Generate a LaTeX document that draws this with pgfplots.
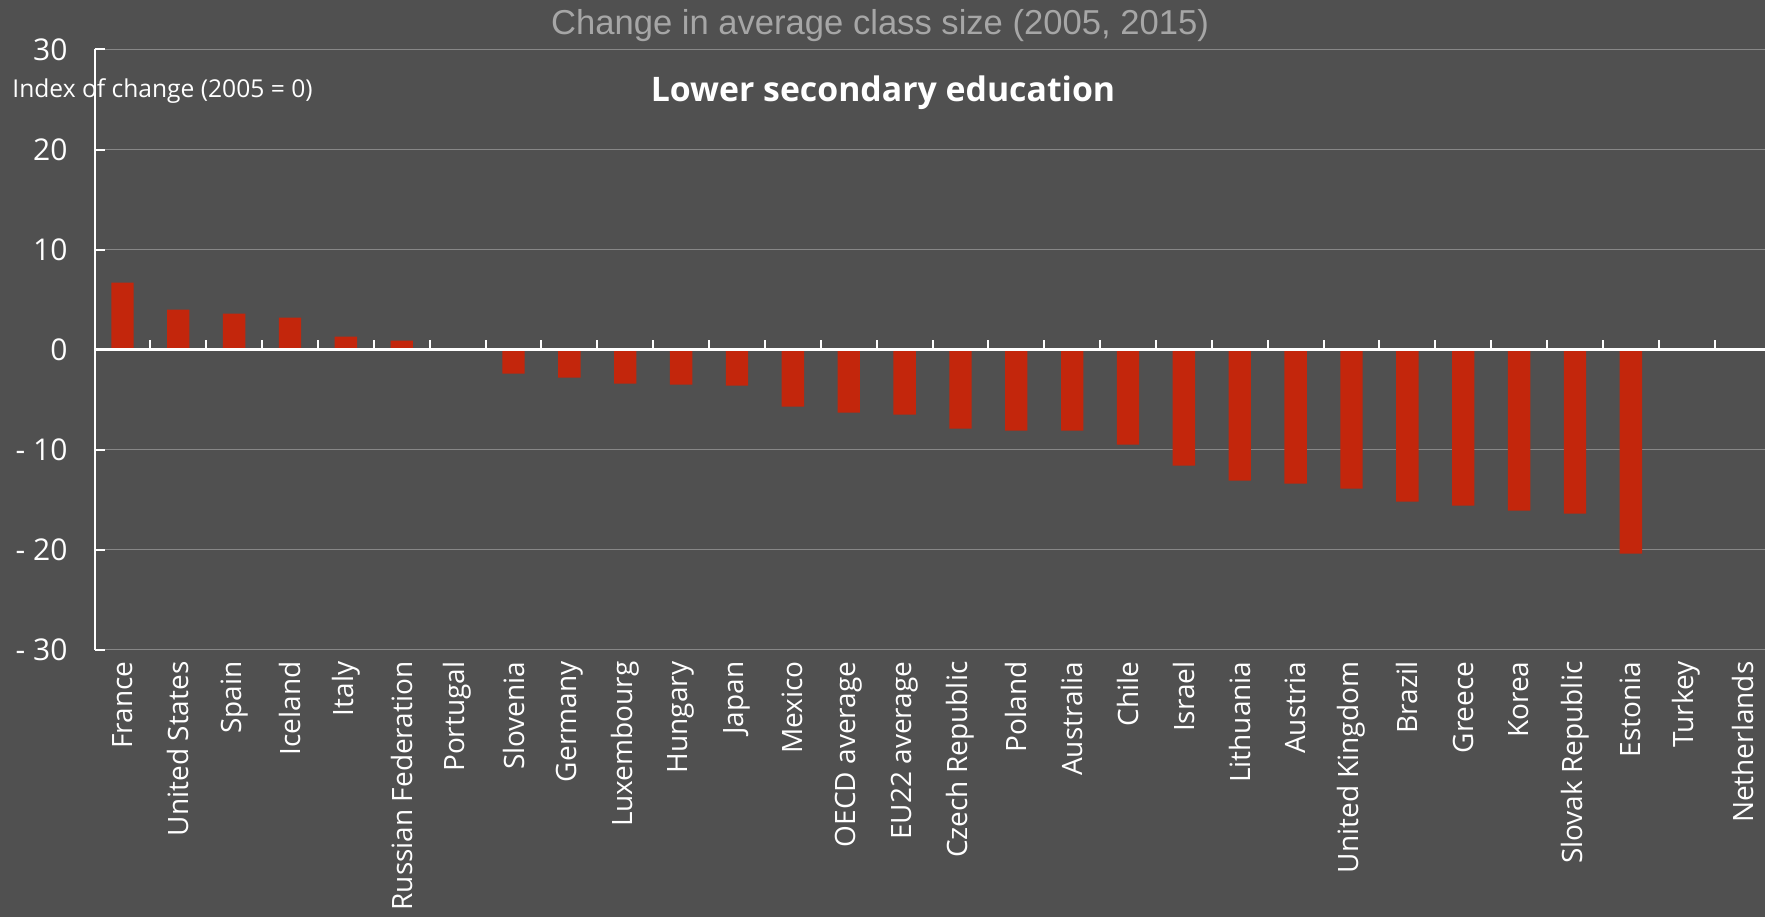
\documentclass[border=0pt]{standalone}
\usepackage{pgfplots}
\pgfplotsset{compat=1.18}
\usepackage{fontspec}
\setmainfont{Open Sans}
\newfontfamily\lib{Liberation Sans}
\definecolor{bg}{RGB}{80,80,80}
\definecolor{barred}{RGB}{195,38,12}
\definecolor{gridc}{RGB}{135,135,135}
\definecolor{titlec}{RGB}{166,166,166}
\begin{document}
\begin{tikzpicture}[x=0.5pt,y=0.5pt]
\path[use as bounding box, fill=bg] (0,0) rectangle (1765,917);
\clip (0,0) rectangle (1765,917);
\begin{axis}[
  at={(47.25pt,133.75pt)}, anchor=south west, scale only axis,
  width=838pt, height=300pt,
  xmin=-0.5, xmax=29.5, ymin=-30, ymax=30,
  axis x line*=bottom, axis y line*=left,
  x axis line style={draw=none},
  y axis line style={white, line width=1pt},
  xtick={0,...,29},
  xticklabels={France,United States,Spain,Iceland,Italy,Russian Federation,Portugal,Slovenia,Germany,Luxembourg,Hungary,Japan,Mexico,OECD average,EU22 average,Czech Republic,Poland,Australia,Chile,Israel,Lithuania,Austria,United Kingdom,Brazil,Greece,Korea,Slovak Republic,Estonia,Turkey,Netherlands},
  x tick label style={rotate=90, anchor=east, font=\fontsize{14}{16}\selectfont, text=white},
  xticklabel shift=2.5pt,
  major x tick style={draw=none},
  ytick={-30,-20,-10,0,10,20,30},
  yticklabels={- 30,- 20,- 10,0,10,20,30},
  y tick label style={font=\fontsize{15}{17}\selectfont, text=white, xshift=-10pt},
  y tick style={white, line width=1pt},
  tick align=inside, major tick length=5pt,
  ymajorgrids, grid style={gridc, line width=0.75pt},
  clip=false,
]
\addplot[ybar, bar width=0.4, fill=barred, draw=none] coordinates {
(0,6.7) (1,4.0) (2,3.6) (3,3.2) (4,1.3) (5,0.9) (6,0) (7,-2.4) (8,-2.8) (9,-3.4)
(10,-3.5) (11,-3.6) (12,-5.7) (13,-6.3) (14,-6.5) (15,-7.9) (16,-8.1) (17,-8.1) (18,-9.5) (19,-11.6)
(20,-13.1) (21,-13.4) (22,-13.9) (23,-15.2) (24,-15.6) (25,-16.1) (26,-16.4) (27,-20.4) (28,0) (29,0)
};
\draw[white, line width=1.2pt] (axis cs:-0.5,0) -- (axis cs:29.5,0);
\pgfplotsinvokeforeach{0.5,1.5,...,28.5}{\draw[white, line width=1pt] (axis cs:#1,0) -- ++(0pt,5pt);}
\end{axis}
\node[font=\lib\fontsize{17.3}{20}\selectfont, text=titlec] at (880,891) {Change in average class size (2005, 2015)};
\node[font=\bfseries\fontsize{16.9}{19}\selectfont, text=white] at (883,824.6) {Lower secondary education};
\node[anchor=west, font=\fontsize{12.3}{14}\selectfont, text=white, inner sep=0pt] at (12,825.6) {Index of change (2005 = 0)};
\end{tikzpicture}
\end{document}
